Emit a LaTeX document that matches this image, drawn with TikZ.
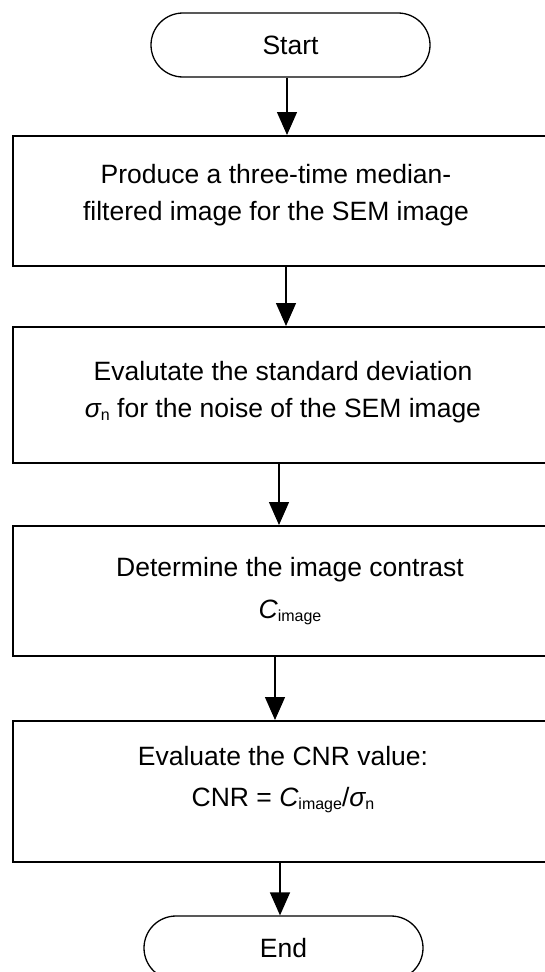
\documentclass[tikz,border=0pt]{standalone}
\usepackage{fontspec}
\setmainfont{Liberation Sans}
\usetikzlibrary{arrows.meta}
\newcommand{\subtx}[1]{\raisebox{-3pt}{\fontsize{16}{16}\selectfont #1}}
\begin{document}
\begin{tikzpicture}[x=1pt,y=-1pt,
  termshape/.style={draw, line width=1.3pt, rounded corners=32pt, minimum width=279pt, minimum height=64pt, inner sep=0pt, font=\fontsize{26.5}{32}\selectfont},
  procbox/.style={draw, line width=1.8pt, anchor=north west, minimum width=548pt, inner sep=0pt},
  txt/.style={align=center, anchor=north, inner sep=0pt, font=\fontsize{26.5}{37}\selectfont},
  arr/.style={line width=1.4pt, -{Triangle[length=23pt,width=20pt]}}]
\useasboundingbox (0,0) rectangle (545,972);
\clip (0,0) rectangle (545,972);
\node[termshape] (start) at (290.5,45) {Start};
\node[procbox, minimum height=130pt] (b1) at (12,135) {};
\node[txt] (t1) at (276,164) {Produce a three-time median-\\filtered image for the SEM image};
\node[procbox, minimum height=136pt] (b2) at (12,326) {};
\node[txt] (t2) at (283,361.5) {Evalutate the standard deviation\\{\itshape σ}\subtx{n} for the noise of the SEM image};
\node[procbox, minimum height=130pt] (b3) at (12,525) {};
\node[txt] (t3) at (290,557.5) {Determine the image contrast\\[4.5pt]{\itshape C}\subtx{image}};
\node[procbox, minimum height=141pt] (b4) at (12,720) {};
\node[txt] (t4) at (283,746) {Evaluate the CNR value:\\[4.5pt]CNR = {\itshape C}\subtx{image}/{\itshape σ}\subtx{n}};
\node[termshape] (end) at (283.5,948) {End};
\coordinate (a0) at (287,0);
\coordinate (a1) at (286,0);
\coordinate (a2) at (279,0);
\coordinate (a3) at (275,0);
\coordinate (a4) at (280,0);
\draw[arr] (start.south -| a0) -- (b1.north -| a0);
\draw[arr] (b1.south -| a1) -- (b2.north -| a1);
\draw[arr] (b2.south -| a2) -- (b3.north -| a2);
\draw[arr] (b3.south -| a3) -- (b4.north -| a3);
\draw[arr] (b4.south -| a4) -- (end.north -| a4);
\end{tikzpicture}
\end{document}
